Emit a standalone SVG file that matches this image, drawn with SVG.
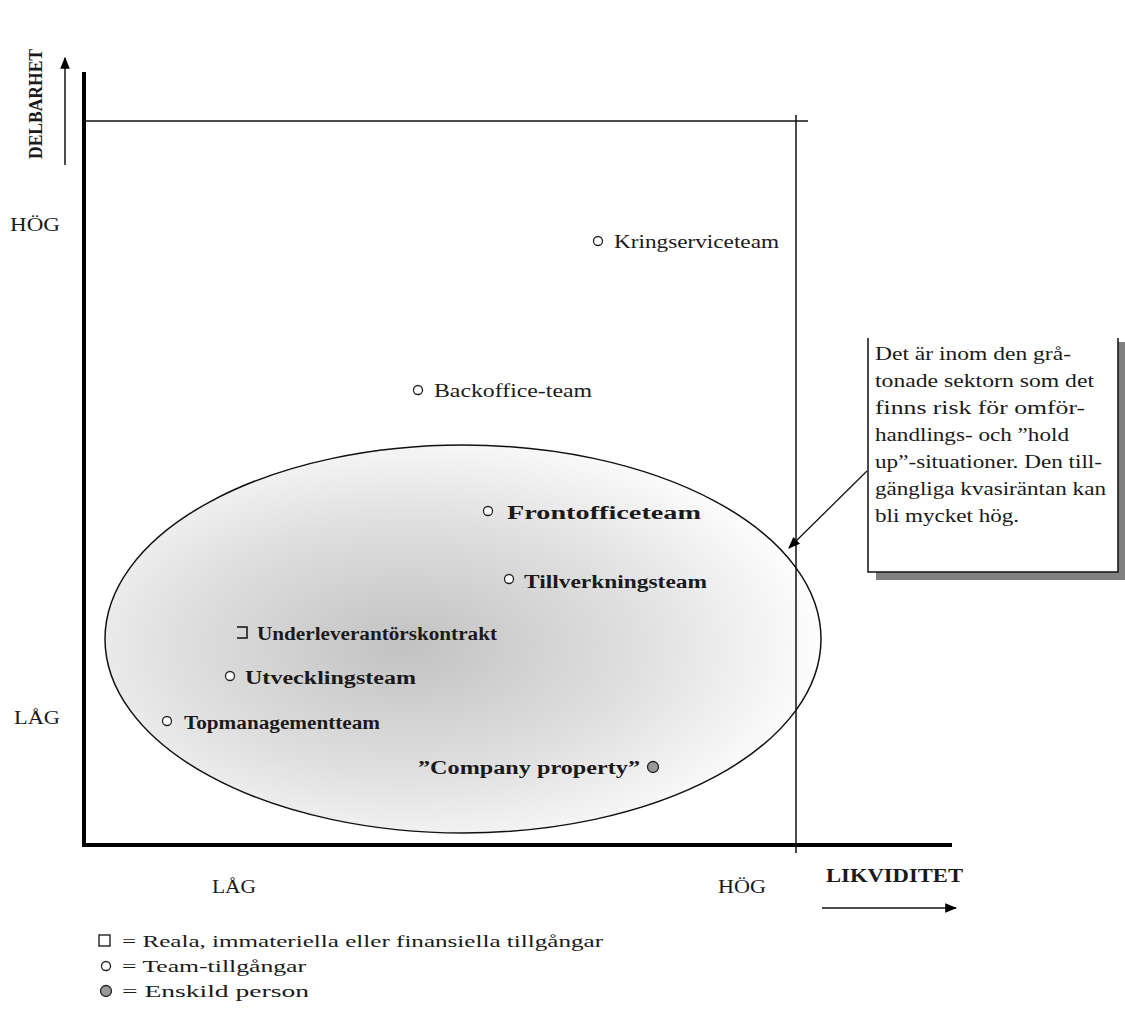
<svg xmlns="http://www.w3.org/2000/svg" width="1125" height="1014" viewBox="0 0 1125 1014">
<style>
text{font-family:"Liberation Serif","Times New Roman",serif;fill:#1a1a1a}
.n{font-size:18px}
.b{font-size:18px;font-weight:bold}
.c{font-size:18px}
.l{font-size:16px}
.dot{fill:#fff;stroke:#222;stroke-width:1.3}
.gdot{fill:#999;stroke:#222;stroke-width:1.3}
.thin{stroke:#111;stroke-width:1.5;fill:none}
.thick{stroke:#000;stroke-width:4;fill:none}
</style>
<defs>
<radialGradient id="shade" cx="0.42" cy="0.52" r="0.6">
<stop offset="0" stop-color="#c2c2c2"/>
<stop offset="0.55" stop-color="#e0e0e0"/>
<stop offset="1" stop-color="#ffffff"/>
</radialGradient>
<marker id="ah2" viewBox="0 0 10 10" refX="9" refY="5" markerWidth="12" markerHeight="12" orient="auto" markerUnits="userSpaceOnUse">
<path d="M0,1 L10,5 L0,9 Z" fill="#000"/>
</marker>
</defs>

<g id="sector">
<ellipse cx="463" cy="639" rx="358" ry="194" fill="url(#shade)" stroke="#111" stroke-width="1.5"/>
</g>

<g id="axes">
<line class="thick" x1="84" y1="72" x2="84" y2="846"/>
<line class="thick" x1="82" y1="845" x2="952" y2="845"/>
<line class="thin" x1="84" y1="121" x2="808" y2="121"/>
<line class="thin" x1="796" y1="115" x2="796" y2="853"/>
<line class="thin" x1="65" y1="165" x2="65" y2="58" marker-end="url(#ah2)"/>
<line class="thin" x1="822" y1="908" x2="956" y2="908" marker-end="url(#ah2)"/>
<text class="b" transform="translate(42,159) rotate(-90)" textLength="110" lengthAdjust="spacingAndGlyphs">DELBARHET</text>
<text class="n" x="10" y="231" textLength="50" lengthAdjust="spacingAndGlyphs">HÖG</text>
<text class="n" x="14" y="724" textLength="46" lengthAdjust="spacingAndGlyphs">LÅG</text>
<text class="n" x="212" y="893" textLength="44" lengthAdjust="spacingAndGlyphs">LÅG</text>
<text class="n" x="718" y="893" textLength="48" lengthAdjust="spacingAndGlyphs">HÖG</text>
<text class="b" x="826" y="882" textLength="137" lengthAdjust="spacingAndGlyphs">LIKVIDITET</text>
</g>

<g id="node-kringserviceteam">
<circle class="dot" cx="598" cy="241" r="4.5"/>
<text class="n" x="614" y="248" textLength="165" lengthAdjust="spacingAndGlyphs">Kringserviceteam</text>
</g>
<g id="node-backoffice">
<circle class="dot" cx="418" cy="390" r="4.5"/>
<text class="n" x="434" y="397" textLength="158" lengthAdjust="spacingAndGlyphs">Backoffice-team</text>
</g>
<g id="node-frontoffice">
<circle class="dot" cx="488" cy="511" r="4.5"/>
<text class="b" x="507" y="519" textLength="194" lengthAdjust="spacingAndGlyphs">Frontofficeteam</text>
</g>
<g id="node-tillverkning">
<circle class="dot" cx="509" cy="579" r="4.5"/>
<text class="b" x="524" y="588" textLength="183" lengthAdjust="spacingAndGlyphs">Tillverkningsteam</text>
</g>
<g id="node-underleverantor">
<path d="M237,627 H247 V638 H237" fill="none" stroke="#111" stroke-width="1.5"/>
<text class="b" x="257" y="640" textLength="240" lengthAdjust="spacingAndGlyphs">Underleverantörskontrakt</text>
</g>
<g id="node-utveckling">
<circle class="dot" cx="230" cy="676" r="4.5"/>
<text class="b" x="245" y="684" textLength="171" lengthAdjust="spacingAndGlyphs">Utvecklingsteam</text>
</g>
<g id="node-topmanagement">
<circle class="dot" cx="167" cy="721" r="4.5"/>
<text class="b" x="184" y="729" textLength="196" lengthAdjust="spacingAndGlyphs">Topmanagementteam</text>
</g>
<g id="node-company">
<text class="b" x="418" y="774" textLength="222" lengthAdjust="spacingAndGlyphs">”Company property”</text>
<circle class="gdot" cx="653" cy="767" r="5.5"/>
</g>

<g id="callout">
<rect x="876" y="342" width="249" height="238" fill="#808080"/>
<rect x="868" y="334" width="250" height="238" fill="#fff"/>
<path d="M868,338 V572 H1118 V338" fill="none" stroke="#111" stroke-width="1.5"/>
<text class="c" x="875" y="360" textLength="196" lengthAdjust="spacingAndGlyphs">Det är inom den grå-</text>
<text class="c" x="875" y="387" textLength="219" lengthAdjust="spacingAndGlyphs">tonade sektorn som det</text>
<text class="c" x="875" y="414" textLength="210" lengthAdjust="spacingAndGlyphs">finns risk för omför-</text>
<text class="c" x="875" y="441" textLength="194" lengthAdjust="spacingAndGlyphs">handlings- och ”hold</text>
<text class="c" x="875" y="468" textLength="227" lengthAdjust="spacingAndGlyphs">up”-situationer. Den till-</text>
<text class="c" x="875" y="495" textLength="231" lengthAdjust="spacingAndGlyphs">gängliga kvasiräntan kan</text>
<text class="c" x="875" y="522" textLength="144" lengthAdjust="spacingAndGlyphs">bli mycket hög.</text>
</g>

<g id="connectors">
<line x1="867" y1="471" x2="789" y2="548" stroke="#111" stroke-width="1.3" marker-end="url(#ah2)"/>
</g>

<g id="legend">
<rect x="99" y="935" width="11" height="11" fill="#fff" stroke="#111" stroke-width="1.3"/>
<text class="l" x="122" y="947" textLength="481" lengthAdjust="spacingAndGlyphs">= Reala, immateriella eller finansiella tillgångar</text>
<circle class="dot" cx="106" cy="966" r="4.5"/>
<text class="l" x="122" y="972" textLength="184" lengthAdjust="spacingAndGlyphs">= Team-tillgångar</text>
<circle class="gdot" cx="106" cy="991" r="5.5"/>
<text class="l" x="122" y="997" textLength="187" lengthAdjust="spacingAndGlyphs">= Enskild person</text>
</g>
</svg>
